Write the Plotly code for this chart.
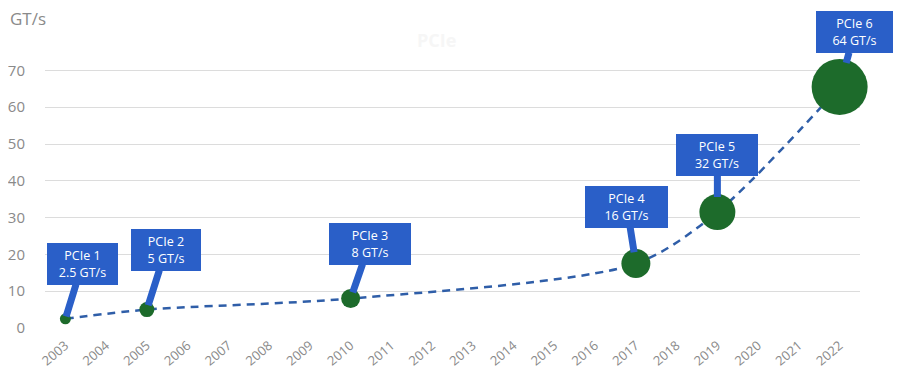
import plotly.graph_objects as go

years = list(range(2003, 2023))
year_labels = [str(y) for y in years]
gen_years = [2003, 2005, 2010, 2017, 2019, 2022]
gen_values = [2.5, 5, 8, 17.5, 31.5, 65.5]
gen_names = ["PCIe 1", "PCIe 2", "PCIe 3", "PCIe 4", "PCIe 5", "PCIe 6"]
gen_rates = ["2.5 GT/s", "5 GT/s", "8 GT/s", "16 GT/s", "32 GT/s", "64 GT/s"]
marker_sizes = [11, 15, 19, 29, 36, 56]
y_ticks = [0, 10, 20, 30, 40, 50, 60, 70]

# callout box placement (pixel offset from point) and box widths
callout_offsets = [(17, -55), (19, -60), (19, -55), (-9, -57), (0, -57), (15, -55)]
callout_widths = [61, 60, 72, 73, 72, 67]

GREEN = "#1d6b2b"
BLUE = "#2a5fc8"
LINE_BLUE = "#2f5ea8"
GREY = "#8a8a8a"

fig = go.Figure()
fig.add_trace(go.Scatter(
    x=gen_years, y=gen_values,
    mode="lines+markers",
    line=dict(color=LINE_BLUE, width=2.5, dash="8px,6px", shape="spline", smoothing=0.8),
    marker=dict(size=marker_sizes, color=GREEN, opacity=1, line=dict(width=0)),
    cliponaxis=False,
    showlegend=False,
    hoverinfo="skip",
))

for xv, yv, name, rate, sz, (ax, ay), w in zip(gen_years, gen_values, gen_names, gen_rates,
                                               marker_sizes, callout_offsets, callout_widths):
    fig.add_annotation(
        x=xv, y=yv, xref="x", yref="y",
        text=f"{name}<br>{rate}",
        showarrow=True, arrowhead=0, arrowwidth=7, arrowcolor=BLUE,
        ax=ax, ay=ay, standoff=max(sz / 2 - 3, 0),
        bgcolor=BLUE, bordercolor=BLUE, borderpad=4, borderwidth=1,
        font=dict(family="Open Sans", size=12.5, color="white"),
        width=w, height=32, align="center",
    )

fig.add_annotation(
    text="GT/s", xref="paper", yref="paper", x=0, y=1, xshift=-37, yshift=47,
    xanchor="left", yanchor="top", showarrow=False,
    font=dict(family="Open Sans", size=17, color=GREY),
)
fig.add_annotation(
    text="<b>PCIe</b>", xref="paper", yref="paper", x=0.48, y=1, yshift=12,
    xanchor="center", yanchor="middle", showarrow=False,
    font=dict(family="Open Sans", size=18, color="#f6f6f6"),
)

# page body has an 8px margin, so the figure is sized/offset to compensate
fig.update_layout(
    width=894, height=366,
    margin=dict(l=37, r=42, t=44, b=46),
    paper_bgcolor="white", plot_bgcolor="white",
    font=dict(family="Open Sans", color=GREY),
)
fig.update_xaxes(
    tickmode="array", tickvals=years, ticktext=year_labels,
    range=[2002.5, 2022.5], tickangle=-40,
    showgrid=False, showline=False, zeroline=False, automargin=False,
    ticks="outside", ticklen=4, tickcolor="white",
    tickfont=dict(size=13, color=GREY),
)
fig.update_yaxes(
    range=[0, 75], tickvals=y_ticks, automargin=False,
    showgrid=True, gridcolor="#dcdcdc", gridwidth=1,
    zeroline=False, showline=False,
    ticks="outside", ticklen=16, tickcolor="white",
    tickfont=dict(size=15, color=GREY),
)

fig.write_html("out.html")
